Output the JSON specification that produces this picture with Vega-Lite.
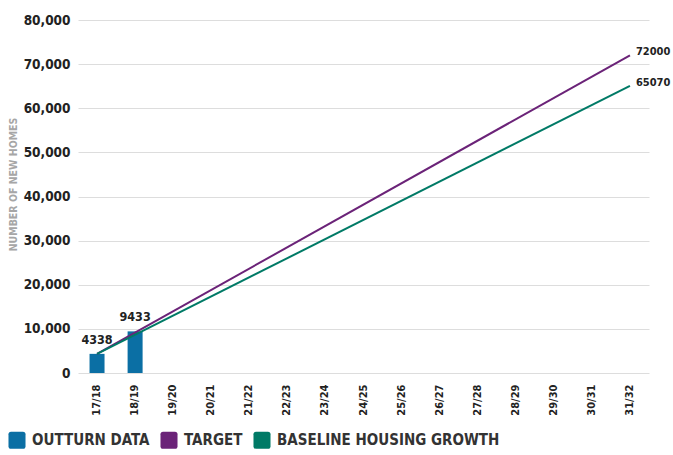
{
  "$schema": "https://vega.github.io/schema/vega-lite/v6.json",
  "width": 571,
  "height": 353,
  "autosize": "none",
  "padding": {"left": 78, "top": 20, "right": 24, "bottom": 82},
  "config": {
    "font": "DejaVu Sans Condensed, Roboto Condensed, Roboto",
    "view": {"stroke": null}
  },
  "datasets": {
    "outturn": [
      {"year": "17/18", "homes": 4338, "series": "OUTTURN DATA"},
      {"year": "18/19", "homes": 9433, "series": "OUTTURN DATA"}
    ],
    "projections": [
      {"year": "17/18", "homes": 4338, "series": "TARGET", "label": ""},
      {"year": "31/32", "homes": 72000, "series": "TARGET", "label": "72000"},
      {"year": "17/18", "homes": 4338, "series": "BASELINE HOUSING GROWTH", "label": ""},
      {"year": "31/32", "homes": 65070, "series": "BASELINE HOUSING GROWTH", "label": "65070"}
    ]
  },
  "encoding": {
    "x": {
      "field": "year",
      "type": "ordinal",
      "scale": {
        "domain": ["17/18","18/19","19/20","20/21","21/22","22/23","23/24","24/25","25/26","26/27","27/28","28/29","29/30","30/31","31/32"],
        "paddingInner": 0.6,
        "paddingOuter": 0.3
      },
      "axis": {
        "title": null,
        "labelAngle": 270,
        "labelAlign": "right",
        "labelBaseline": "middle",
        "labelFontSize": 11,
        "labelFontWeight": "bold",
        "labelColor": "#222222",
        "labelPadding": 11,
        "ticks": false,
        "domain": false
      }
    },
    "y": {
      "field": "homes",
      "type": "quantitative",
      "scale": {"domain": [0, 80000]},
      "axis": {
        "title": "NUMBER OF NEW HOMES",
        "titleColor": "#a6a6a6",
        "titleFontSize": 10.5,
        "titleFontWeight": "bold",
        "titleX": -62,
        "titleY": 164,
        "titleAngle": 270,
        "titleAlign": "center",
        "titleBaseline": "alphabetic",
        "tickCount": 8,
        "format": ",d",
        "labelFontSize": 13.5,
        "labelFontWeight": "bold",
        "labelColor": "#222222",
        "labelPadding": 8,
        "ticks": false,
        "domain": false,
        "gridColor": "#dddddd",
        "gridWidth": 1
      }
    },
    "color": {
      "field": "series",
      "type": "nominal",
      "scale": {
        "domain": ["OUTTURN DATA", "TARGET", "BASELINE HOUSING GROWTH"],
        "range": ["#0b6fa4", "#6b2378", "#007a66"]
      },
      "legend": {
        "title": null,
        "orient": "none",
        "direction": "horizontal",
        "legendX": -70,
        "legendY": 411,
        "symbolType": "M -0.7 -1 L 0.7 -1 Q 1 -1 1 -0.7 L 1 0.7 Q 1 1 0.7 1 L -0.7 1 Q -1 1 -1 0.7 L -1 -0.7 Q -1 -1 -0.7 -1 Z",
        "symbolSize": 290,
        "symbolStrokeWidth": 0,
        "labelFontSize": 15,
        "labelFontWeight": "bold",
        "labelColor": "#333333",
        "labelLimit": 400,
        "labelOffset": 6,
        "columnPadding": 10,
        "encode": {
          "symbols": {
            "update": {
              "fill": {"scale": "color", "field": "value"},
              "opacity": {"value": 1},
              "strokeWidth": {"value": 0}
            }
          }
        }
      }
    }
  },
  "layer": [
    {
      "data": {"name": "outturn"},
      "mark": {"type": "bar", "size": 15},
      "encoding": {}
    },
    {
      "data": {"name": "outturn"},
      "mark": {"type": "text", "dy": -14, "fontSize": 12.5, "fontWeight": "bold", "color": "#222222"},
      "encoding": {
        "text": {"field": "homes", "type": "quantitative", "format": "d"},
        "color": {"value": "#222222"}
      }
    },
    {
      "data": {"name": "projections"},
      "mark": {"type": "line", "strokeWidth": 2},
      "encoding": {}
    },
    {
      "data": {"name": "projections"},
      "mark": {"type": "text", "align": "left", "dx": 6, "dy": -3, "fontSize": 11, "fontWeight": "bold"},
      "encoding": {
        "text": {"field": "label", "type": "nominal"},
        "color": {"value": "#222222"}
      }
    }
  ]
}
